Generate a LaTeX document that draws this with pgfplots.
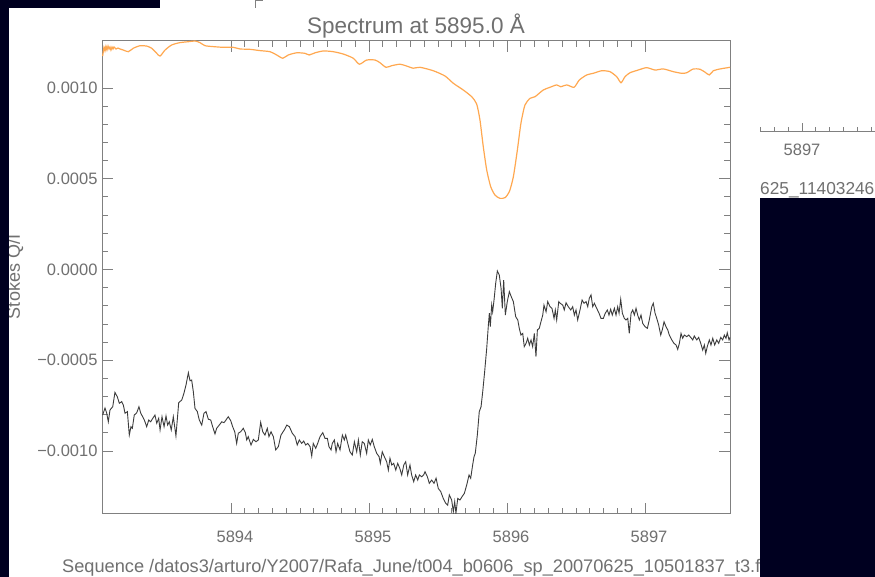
\documentclass[border=0pt]{standalone}
\usepackage{fontspec}
\setmainfont{Liberation Sans}
\usepackage{pgfplots}
\pgfplotsset{compat=1.18}
\usepackage{pgfplotstable}

\definecolor{navy}{RGB}{0,0,32}
\definecolor{axgray}{RGB}{128,128,128}
\definecolor{txtgray}{RGB}{112,112,112}
\definecolor{qcol}{RGB}{60,60,60}
\definecolor{icol}{RGB}{255,168,80}

% Stokes Q/I (black trace)
\pgfplotstableread{
lambda q
5893.070 -8.02e-4
5893.087 -7.63e-4
5893.099 -7.91e-4
5893.111 -8.39e-4
5893.123 -7.74e-4
5893.143 -7.56e-4
5893.159 -6.77e-4
5893.176 -7.01e-4
5893.191 -7.37e-4
5893.208 -7.28e-4
5893.220 -7.47e-4
5893.232 -7.92e-4
5893.249 -7.83e-4
5893.263 -9.12e-4
5893.275 -8.66e-4
5893.285 -8.75e-4
5893.299 -8.02e-4
5893.317 -7.89e-4
5893.333 -7.56e-4
5893.346 -7.92e-4
5893.360 -8.11e-4
5893.372 -8.29e-4
5893.389 -8.66e-4
5893.404 -8.29e-4
5893.418 -8.39e-4
5893.433 -8.20e-4
5893.449 -8.02e-4
5893.462 -8.47e-4
5893.476 -8.20e-4
5893.486 -8.84e-4
5893.500 -8.11e-4
5893.515 -8.66e-4
5893.529 -8.07e-4
5893.541 -8.57e-4
5893.553 -8.39e-4
5893.567 -8.84e-4
5893.582 -8.11e-4
5893.601 -9.17e-4
5893.621 -7.34e-4
5893.643 -7.19e-4
5893.659 -6.82e-4
5893.674 -6.36e-4
5893.691 -5.69e-4
5893.703 -6.13e-4
5893.715 -6.09e-4
5893.727 -6.73e-4
5893.739 -7.65e-4
5893.756 -7.83e-4
5893.770 -8.29e-4
5893.788 -8.57e-4
5893.804 -7.92e-4
5893.819 -7.83e-4
5893.836 -8.25e-4
5893.853 -8.29e-4
5893.867 -8.66e-4
5893.884 -9.06e-4
5893.896 -8.75e-4
5893.915 -8.57e-4
5893.933 -8.39e-4
5893.949 -8.44e-4
5893.964 -8.29e-4
5893.980 -8.11e-4
5893.998 -8.33e-4
5894.012 -8.66e-4
5894.027 -8.94e-4
5894.041 -9.58e-4
5894.053 -9.02e-4
5894.070 -8.94e-4
5894.089 -8.75e-4
5894.104 -8.99e-4
5894.114 -9.39e-4
5894.125 -9.21e-4
5894.145 -9.67e-4
5894.162 -9.36e-4
5894.181 -9.49e-4
5894.198 -9.39e-4
5894.215 -8.42e-4
5894.230 -8.94e-4
5894.246 -9.12e-4
5894.263 -8.75e-4
5894.275 -9.21e-4
5894.290 -8.94e-4
5894.307 -9.21e-4
5894.324 -9.94e-4
5894.343 -9.76e-4
5894.362 -9.12e-4
5894.386 -8.84e-4
5894.404 -8.57e-4
5894.423 -8.66e-4
5894.444 -9.02e-4
5894.464 -9.21e-4
5894.480 -9.67e-4
5894.495 -9.39e-4
5894.512 -9.58e-4
5894.527 -9.45e-4
5894.541 -9.67e-4
5894.556 -9.58e-4
5894.573 -9.76e-4
5894.585 -1.028e-3
5894.596 -9.58e-4
5894.614 -9.85e-4
5894.628 -9.58e-4
5894.645 -9.21e-4
5894.665 -8.99e-4
5894.681 -9.30e-4
5894.698 -9.30e-4
5894.710 -9.76e-4
5894.725 -9.94e-4
5894.734 -9.58e-4
5894.749 -9.39e-4
5894.761 -1.004e-3
5894.773 -9.58e-4
5894.790 -9.94e-4
5894.807 -9.12e-4
5894.821 -9.39e-4
5894.831 -9.12e-4
5894.846 -9.58e-4
5894.862 -1.004e-3
5894.879 -1.022e-3
5894.894 -9.49e-4
5894.911 -1.004e-3
5894.923 -9.39e-4
5894.937 -1.022e-3
5894.951 -9.49e-4
5894.966 -9.58e-4
5894.983 -1.013e-3
5894.995 -9.39e-4
5895.009 -9.67e-4
5895.024 -9.36e-4
5895.038 -9.76e-4
5895.056 -1.013e-3
5895.073 -1.031e-3
5895.082 -1.068e-3
5895.096 -1.004e-3
5895.111 -1.031e-3
5895.128 -1.059e-3
5895.140 -1.105e-3
5895.152 -1.040e-3
5895.165 -1.077e-3
5895.179 -1.068e-3
5895.194 -1.105e-3
5895.208 -1.068e-3
5895.223 -1.095e-3
5895.237 -1.132e-3
5895.252 -1.077e-3
5895.266 -1.059e-3
5895.280 -1.132e-3
5895.297 -1.077e-3
5895.309 -1.132e-3
5895.324 -1.169e-3
5895.338 -1.132e-3
5895.353 -1.160e-3
5895.365 -1.132e-3
5895.382 -1.142e-3
5895.396 -1.132e-3
5895.406 -1.114e-3
5895.423 -1.142e-3
5895.437 -1.178e-3
5895.454 -1.160e-3
5895.471 -1.178e-3
5895.486 -1.150e-3
5895.502 -1.206e-3
5895.520 -1.224e-3
5895.538 -1.261e-3
5895.556 -1.288e-3
5895.570 -1.298e-3
5895.582 -1.242e-3
5895.599 -1.270e-3
5895.611 -1.334e-3
5895.621 -1.279e-3
5895.630 -1.343e-3
5895.643 -1.261e-3
5895.659 -1.270e-3
5895.674 -1.252e-3
5895.691 -1.233e-3
5895.708 -1.187e-3
5895.725 -1.132e-3
5895.737 -1.150e-3
5895.751 -1.077e-3
5895.761 -1.031e-3
5895.770 -1.013e-3
5895.785 -9.12e-4
5895.799 -7.83e-4
5895.812 -7.56e-4
5895.824 -6.73e-4
5895.838 -5.63e-4
5895.853 -4.34e-4
5895.865 -3.06e-4
5895.872 -2.41e-4
5895.879 -3.15e-4
5895.889 -1.96e-4
5895.896 -2.33e-4
5895.906 -1.68e-4
5895.918 -0.76e-4
5895.930 -0.08e-4
5895.944 -0.30e-4
5895.957 -1.04e-4
5895.966 -2.14e-4
5895.976 -0.58e-4
5895.988 -2.51e-4
5896.002 -1.77e-4
5896.017 -1.22e-4
5896.031 -1.50e-4
5896.046 -1.77e-4
5896.063 -2.60e-4
5896.078 -2.78e-4
5896.089 -3.24e-4
5896.101 -3.61e-4
5896.114 -3.52e-4
5896.125 -4.25e-4
5896.138 -4.07e-4
5896.150 -3.79e-4
5896.162 -4.16e-4
5896.174 -3.88e-4
5896.186 -4.25e-4
5896.198 -3.52e-4
5896.210 -4.80e-4
5896.220 -3.33e-4
5896.234 -3.24e-4
5896.246 -2.88e-4
5896.259 -2.51e-4
5896.268 -1.96e-4
5896.283 -2.33e-4
5896.295 -1.77e-4
5896.312 -2.05e-4
5896.326 -2.14e-4
5896.341 -2.69e-4
5896.350 -2.23e-4
5896.360 -2.78e-4
5896.375 -1.77e-4
5896.384 -1.85e-4
5896.404 -1.96e-4
5896.415 -2.23e-4
5896.428 -1.83e-4
5896.444 -2.05e-4
5896.462 -2.23e-4
5896.476 -2.05e-4
5896.488 -2.51e-4
5896.500 -2.23e-4
5896.512 -2.78e-4
5896.529 -2.23e-4
5896.544 -1.68e-4
5896.558 -1.86e-4
5896.573 -1.77e-4
5896.585 -2.05e-4
5896.596 -1.59e-4
5896.609 -1.40e-4
5896.621 -2.05e-4
5896.633 -1.86e-4
5896.650 -2.14e-4
5896.667 -2.41e-4
5896.681 -2.69e-4
5896.698 -2.69e-4
5896.712 -2.41e-4
5896.727 -2.23e-4
5896.739 -2.51e-4
5896.751 -2.19e-4
5896.763 -2.51e-4
5896.778 -2.14e-4
5896.790 -2.51e-4
5896.802 -2.05e-4
5896.812 -2.41e-4
5896.824 -1.64e-4
5896.836 -2.41e-4
5896.850 -2.69e-4
5896.862 -2.78e-4
5896.875 -2.69e-4
5896.886 -3.52e-4
5896.899 -2.41e-4
5896.911 -2.23e-4
5896.923 -2.51e-4
5896.935 -2.14e-4
5896.947 -2.51e-4
5896.959 -2.78e-4
5896.971 -2.51e-4
5896.983 -2.96e-4
5897.000 -3.15e-4
5897.017 -3.24e-4
5897.031 -2.78e-4
5897.049 -2.05e-4
5897.060 -1.86e-4
5897.073 -2.41e-4
5897.085 -2.69e-4
5897.099 -3.06e-4
5897.114 -3.61e-4
5897.125 -3.33e-4
5897.138 -2.88e-4
5897.152 -3.15e-4
5897.165 -3.33e-4
5897.176 -3.61e-4
5897.194 -3.88e-4
5897.210 -4.07e-4
5897.225 -4.16e-4
5897.237 -4.40e-4
5897.249 -4.07e-4
5897.261 -3.52e-4
5897.273 -3.79e-4
5897.285 -3.61e-4
5897.302 -3.70e-4
5897.317 -3.61e-4
5897.331 -3.74e-4
5897.346 -3.88e-4
5897.357 -3.66e-4
5897.375 -3.88e-4
5897.389 -3.74e-4
5897.404 -4.07e-4
5897.418 -4.44e-4
5897.430 -4.16e-4
5897.440 -4.62e-4
5897.451 -4.25e-4
5897.466 -3.88e-4
5897.478 -4.16e-4
5897.491 -3.79e-4
5897.505 -4.16e-4
5897.520 -3.88e-4
5897.534 -4.07e-4
5897.549 -3.74e-4
5897.563 -3.88e-4
5897.575 -3.61e-4
5897.587 -3.79e-4
5897.596 -3.48e-4
5897.609 -3.88e-4
5897.616 -3.74e-4
}\stokesq

% intensity profile, scaled (orange trace)
\pgfplotstableread{
lambda i
5893.070 1.176e-3
5893.080 1.226e-3
5893.087 1.204e-3
5893.094 1.231e-3
5893.101 1.209e-3
5893.109 1.231e-3
5893.116 1.215e-3
5893.123 1.226e-3
5893.130 1.209e-3
5893.138 1.226e-3
5893.145 1.215e-3
5893.152 1.226e-3
5893.167 1.215e-3
5893.181 1.220e-3
5893.196 1.215e-3
5893.220 1.209e-3
5893.256 1.200e-3
5893.292 1.219e-3
5893.341 1.233e-3
5893.389 1.231e-3
5893.425 1.219e-3
5893.462 1.191e-3
5893.486 1.176e-3
5893.522 1.209e-3
5893.570 1.237e-3
5893.630 1.250e-3
5893.691 1.255e-3
5893.739 1.259e-3
5893.775 1.250e-3
5893.812 1.233e-3
5893.872 1.228e-3
5893.944 1.224e-3
5894.017 1.224e-3
5894.065 1.215e-3
5894.138 1.213e-3
5894.210 1.206e-3
5894.283 1.200e-3
5894.331 1.182e-3
5894.375 1.164e-3
5894.415 1.182e-3
5894.476 1.194e-3
5894.536 1.191e-3
5894.567 1.182e-3
5894.609 1.194e-3
5894.669 1.204e-3
5894.741 1.200e-3
5894.814 1.187e-3
5894.886 1.164e-3
5894.930 1.131e-3
5894.983 1.154e-3
5895.044 1.154e-3
5895.080 1.139e-3
5895.123 1.114e-3
5895.165 1.123e-3
5895.225 1.131e-3
5895.273 1.121e-3
5895.321 1.109e-3
5895.370 1.114e-3
5895.466 1.095e-3
5895.551 1.066e-3
5895.611 1.026e-3
5895.683 0.989e-3
5895.744 0.952e-3
5895.780 0.912e-3
5895.804 0.824e-3
5895.828 0.677e-3
5895.853 0.548e-3
5895.882 0.456e-3
5895.913 0.410e-3
5895.949 0.392e-3
5895.986 0.396e-3
5896.017 0.429e-3
5896.046 0.511e-3
5896.075 0.658e-3
5896.101 0.806e-3
5896.130 0.906e-3
5896.167 0.943e-3
5896.203 0.952e-3
5896.263 0.989e-3
5896.312 1.004e-3
5896.360 1.017e-3
5896.389 1.007e-3
5896.433 1.017e-3
5896.486 1.004e-3
5896.524 1.044e-3
5896.578 1.072e-3
5896.625 1.081e-3
5896.686 1.095e-3
5896.746 1.090e-3
5896.795 1.062e-3
5896.826 1.029e-3
5896.855 1.062e-3
5896.891 1.084e-3
5896.951 1.099e-3
5897.012 1.112e-3
5897.073 1.099e-3
5897.133 1.105e-3
5897.205 1.090e-3
5897.266 1.081e-3
5897.302 1.084e-3
5897.350 1.105e-3
5897.399 1.103e-3
5897.435 1.087e-3
5897.466 1.072e-3
5897.495 1.095e-3
5897.544 1.105e-3
5897.616 1.114e-3
}\intensity

\begin{document}
\begin{tikzpicture}
% page: 875 x 577 px, 1px = 1pt, origin bottom left
\fill[white] (0pt,0pt) rectangle (875pt,577pt);
\path[use as bounding box] (0pt,0pt) rectangle (875pt,577pt);

\begin{axis}[
    at={(102pt,63pt)}, anchor=south west,
    scale only axis, width=628pt, height=473pt,
    xmin=5893.0652, xmax=5897.6159,
    ymin=-0.001347, ymax=0.001259,
    scaled y ticks=false,
    xtick={5894,5895,5896,5897},
    xticklabels={5894,5895,5896,5897},
    ytick={-0.001,-0.0005,0,0.0005,0.001},
    yticklabels={−0.0010,−0.0005,0.0000,0.0005,0.0010},
    minor x tick num=9, minor y tick num=4,
    tick align=inside,
    major tick length=11pt, minor tick length=6pt,
    axis line style={axgray, line width=1pt},
    every tick/.style={axgray, line width=0.9pt},
    ticklabel style={text=txtgray, font=\fontsize{16.5}{18}\selectfont},
    xticklabel style={yshift=-13pt, xshift=4pt},
    yticklabel style={xshift=-1pt},
]
\addplot[icol, line width=1.2pt, smooth, tension=0.4] table[x=lambda, y=i] {\intensity};
\addplot[qcol, line width=0.9pt] table[x=lambda, y=q] {\stokesq};
\end{axis}

% title and y label
\node[text=txtgray, font=\fontsize{22.5}{26}\selectfont] at (416pt,551pt) {Spectrum at 5895.0 Å};
\node[text=txtgray, font=\fontsize{18}{22}\selectfont, rotate=90] at (15pt,300pt) {Stokes Q/I};

% file name line at the bottom
\node[anchor=base west, text=txtgray, font=\fontsize{18.2}{21}\selectfont, inner sep=0pt]
  at (62pt,4pt) {Sequence /datos3/arturo/Y2007/Rafa\_June/t004\_b0606\_sp\_20070625\_10501837\_t3.fits};

% piece of the neighbouring window
\draw[axgray, line width=1pt] (760pt,445pt) -- (875pt,445pt);
\foreach \t in {760.6,774.4,788.2,815.8,829.6,843.4,857.2,871}
  \draw[axgray, line width=0.9pt] (\t pt,445pt) -- (\t pt,450pt);
\draw[axgray, line width=0.9pt] (802pt,445pt) -- (802pt,454pt);
\node[text=txtgray, font=\fontsize{16.5}{18}\selectfont] at (802pt,427pt) {5897};
\node[anchor=base west, text=txtgray, font=\fontsize{17.3}{20}\selectfont, inner sep=0pt]
  at (760pt,382pt) {625\_11403246};
\draw[axgray, line width=1pt] (255pt,577pt) -- (255pt,569pt);
\draw[axgray, line width=1pt] (255pt,576.5pt) -- (263pt,576.5pt);

% dark desktop around the window
\fill[navy] (0pt,0pt) rectangle (9pt,577pt);
\fill[navy] (0pt,569pt) rectangle (160pt,577pt);
\fill[navy] (760pt,0pt) rectangle (875pt,379pt);
\end{tikzpicture}
\end{document}
